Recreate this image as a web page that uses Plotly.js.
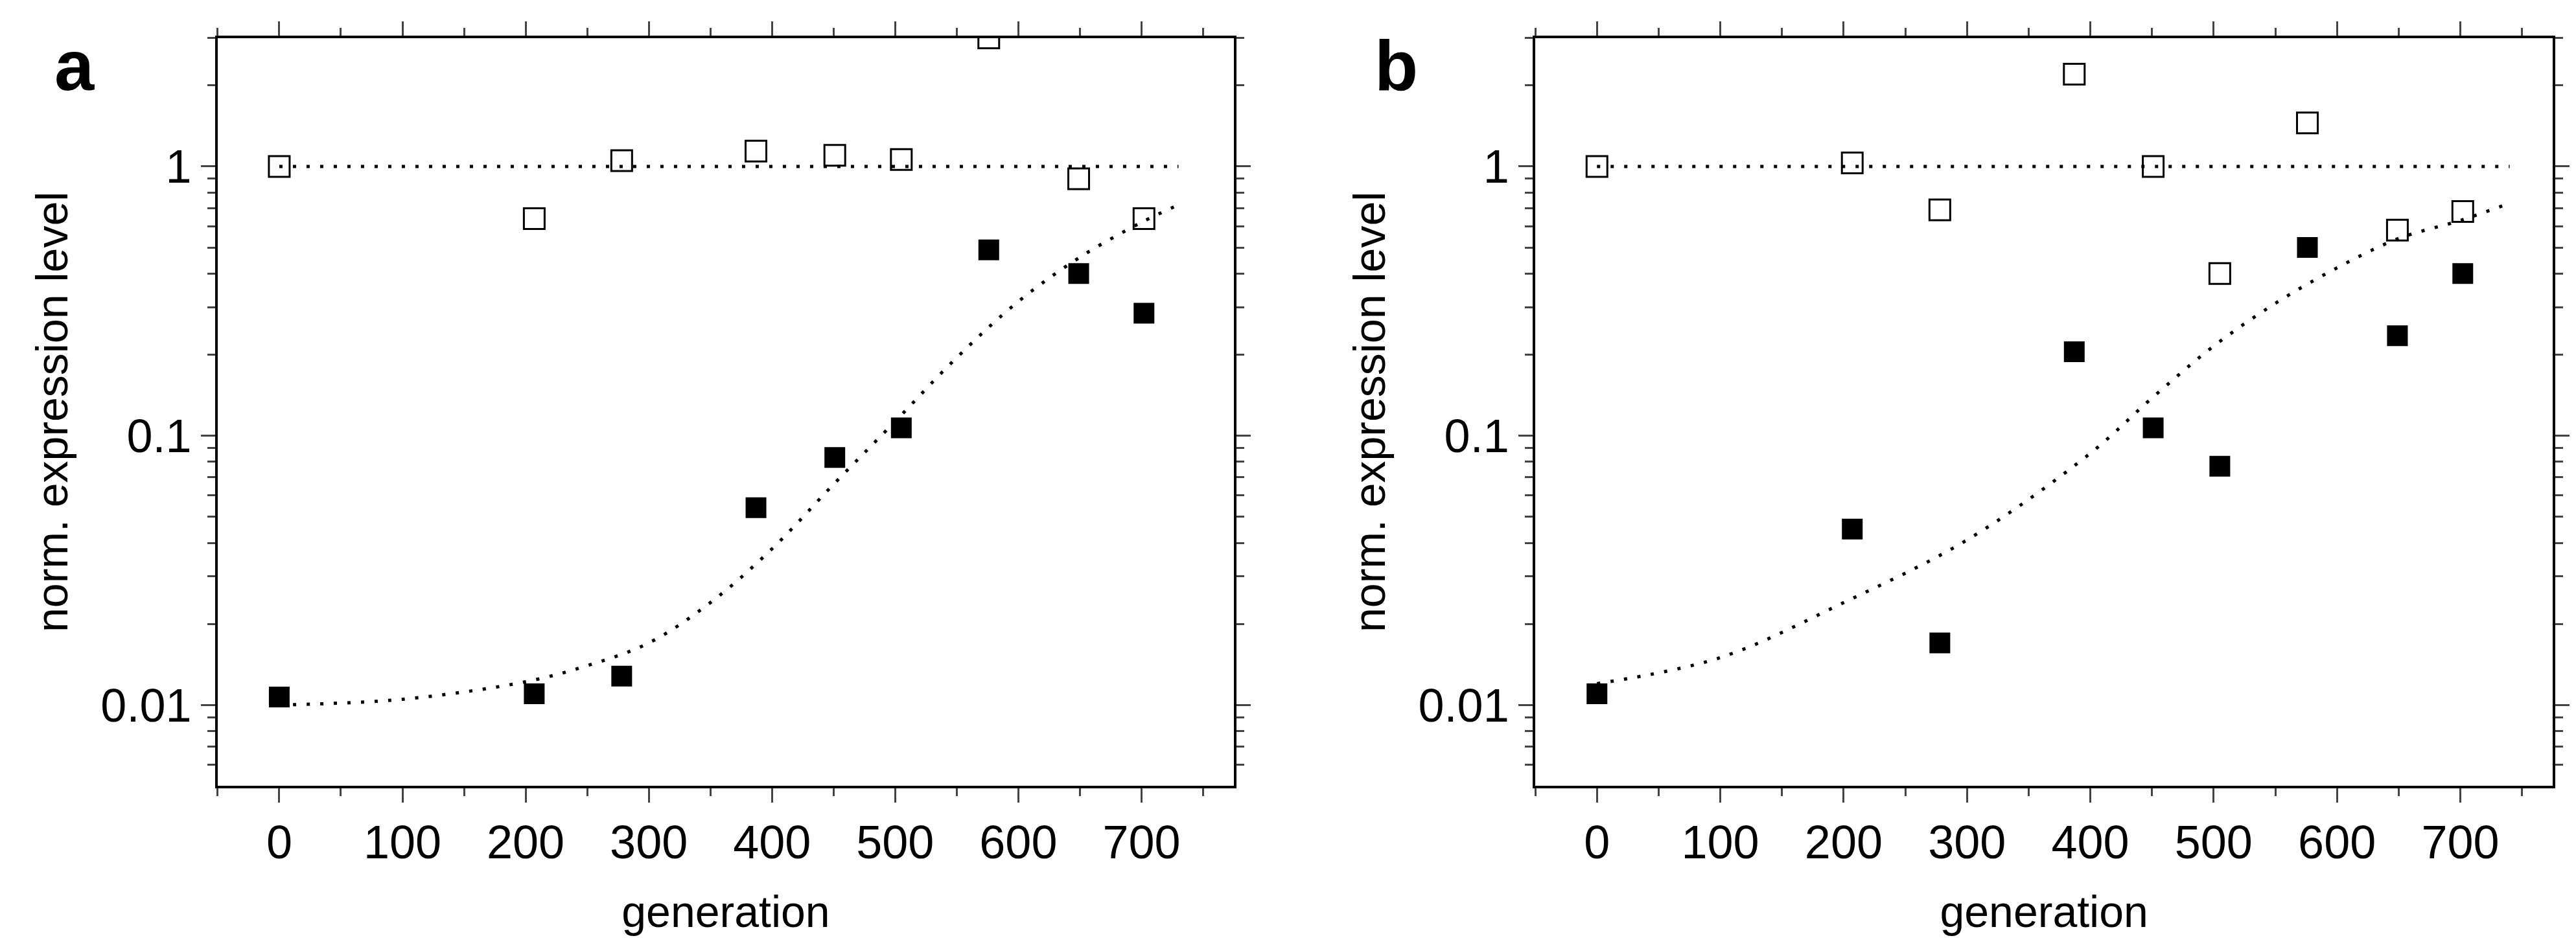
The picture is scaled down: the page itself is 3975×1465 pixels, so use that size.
<!DOCTYPE html>
<html>
<head>
<meta charset="utf-8">
<script src="https://cdn.plot.ly/plotly-3.0.1.min.js"></script>
<style>html,body{margin:0;padding:0;background:#fff}</style>
</head>
<body>
<div id="chart" style="width:3975px;height:1465px"></div>
<script>
// generations sampled
let gen = [0, 207, 278, 387, 451, 505, 576, 649, 702];

// panel a
let aOpen = [1, 0.64, 1.05, 1.14, 1.1, 1.06, 3.0, 0.9, 0.64];
let aFilled = [0.0107, 0.011, 0.0128, 0.054, 0.083, 0.107, 0.49, 0.40, 0.285];
let aFitX = [0, 100, 200, 250, 300, 350, 400, 450, 500, 550, 600, 650, 700, 730];
let aFitY = [0.01, 0.0105, 0.0122, 0.014, 0.017, 0.024, 0.038, 0.066, 0.113, 0.195, 0.315, 0.46, 0.62, 0.72];

// panel b
let bOpen = [1, 1.03, 0.69, 2.2, 1.0, 0.40, 1.45, 0.58, 0.68];
let bFilled = [0.011, 0.045, 0.017, 0.205, 0.107, 0.077, 0.50, 0.235, 0.40];
let bFitX = [0, 100, 200, 300, 400, 450, 500, 550, 600, 650, 700, 740];
let bFitY = [0.012, 0.015, 0.024, 0.041, 0.086, 0.138, 0.215, 0.31, 0.42, 0.54, 0.63, 0.73];

let flatX = [0, 730];
let flatY = [1, 1];

let font = 'Liberation Sans Narrow, Arial Narrow, Liberation Sans, sans-serif';

function traces(xa, ya, open, filled, fx, fy, flatEnd) {
  let dot = {color: 'black', width: 5, dash: '5px,16px'};
  return [
    {x: [flatX[0], flatEnd], y: flatY, mode: 'lines', line: dot, xaxis: xa, yaxis: ya},
    {x: fx, y: fy, mode: 'lines', line: Object.assign({shape: 'spline'}, dot), xaxis: xa, yaxis: ya},
    {x: gen, y: open, mode: 'markers', xaxis: xa, yaxis: ya,
     marker: {symbol: 'square-open', size: 32, color: 'black', line: {width: 3, color: 'black'}}},
    {x: gen, y: filled, mode: 'markers', xaxis: xa, yaxis: ya,
     marker: {symbol: 'square', size: 32, color: 'black'}}
  ];
}

let plotData = traces('x', 'y', aOpen, aFilled, aFitX, aFitY, 730)
  .concat(traces('x2', 'y2', bOpen, bFilled, bFitX, bFitY, 740));

let minorLog = [];
[0.001, 0.01, 0.1, 1].forEach(function (d) {
  for (let k = 2; k <= 9; k++) minorLog.push(d * k);
});

function xAxis(dom, anchor) {
  return {
    domain: dom, anchor: anchor, range: [-50, 775],
    tickvals: [0, 100, 200, 300, 400, 500, 600, 700],
    ticks: 'outside', ticklen: 22, tickwidth: 3, mirror: 'allticks',
    showline: true, linewidth: 4, linecolor: 'black', showgrid: false, zeroline: false,
    minor: {tickvals: [-50, 50, 150, 250, 350, 450, 550, 650, 750], ticks: 'outside', ticklen: 12, tickwidth: 3},
    tickfont: {family: font, size: 72, color: 'black'},
    title: {text: 'generation', font: {family: 'Liberation Sans, Arial, sans-serif', size: 68, color: 'black'}, standoff: 45}
  };
}

function yAxis(anchor) {
  return {
    domain: [0.172, 0.96], anchor: anchor, type: 'log', range: [-2.30, 0.477],
    tickvals: [0.01, 0.1, 1], ticktext: ['0.01', '0.1', '1'],
    ticks: 'outside', ticklen: 22, tickwidth: 3, mirror: 'allticks',
    showline: true, linewidth: 4, linecolor: 'black', showgrid: false, zeroline: false,
    minor: {tickvals: minorLog, ticks: 'outside', ticklen: 12, tickwidth: 3},
    tickfont: {family: font, size: 72, color: 'black'},
    title: {text: 'norm. expression level', font: {family: 'Liberation Sans, Arial, sans-serif', size: 68, color: 'black'}, standoff: 30}
  };
}

let layout = {
  width: 3975, height: 1465, showlegend: false,
  margin: {l: 0, r: 0, t: 0, b: 0},
  paper_bgcolor: 'white', plot_bgcolor: 'white',
  xaxis: xAxis([0.0845, 0.479], 'y'),
  yaxis: yAxis('x'),
  xaxis2: xAxis([0.596, 0.991], 'y2'),
  yaxis2: yAxis('x2'),
  annotations: [
    {text: '<b>a</b>', xref: 'paper', yref: 'paper', x: 0.029, y: 0.975, showarrow: false,
     xanchor: 'center', yanchor: 'top', font: {family: 'Liberation Sans, Arial, sans-serif', size: 110, color: 'black'}},
    {text: '<b>b</b>', xref: 'paper', yref: 'paper', x: 0.542, y: 0.975, showarrow: false,
     xanchor: 'center', yanchor: 'top', font: {family: 'Liberation Sans, Arial, sans-serif', size: 110, color: 'black'}}
  ]
};

Plotly.newPlot('chart', plotData, layout, {staticPlot: true});
</script>
</body>
</html>
